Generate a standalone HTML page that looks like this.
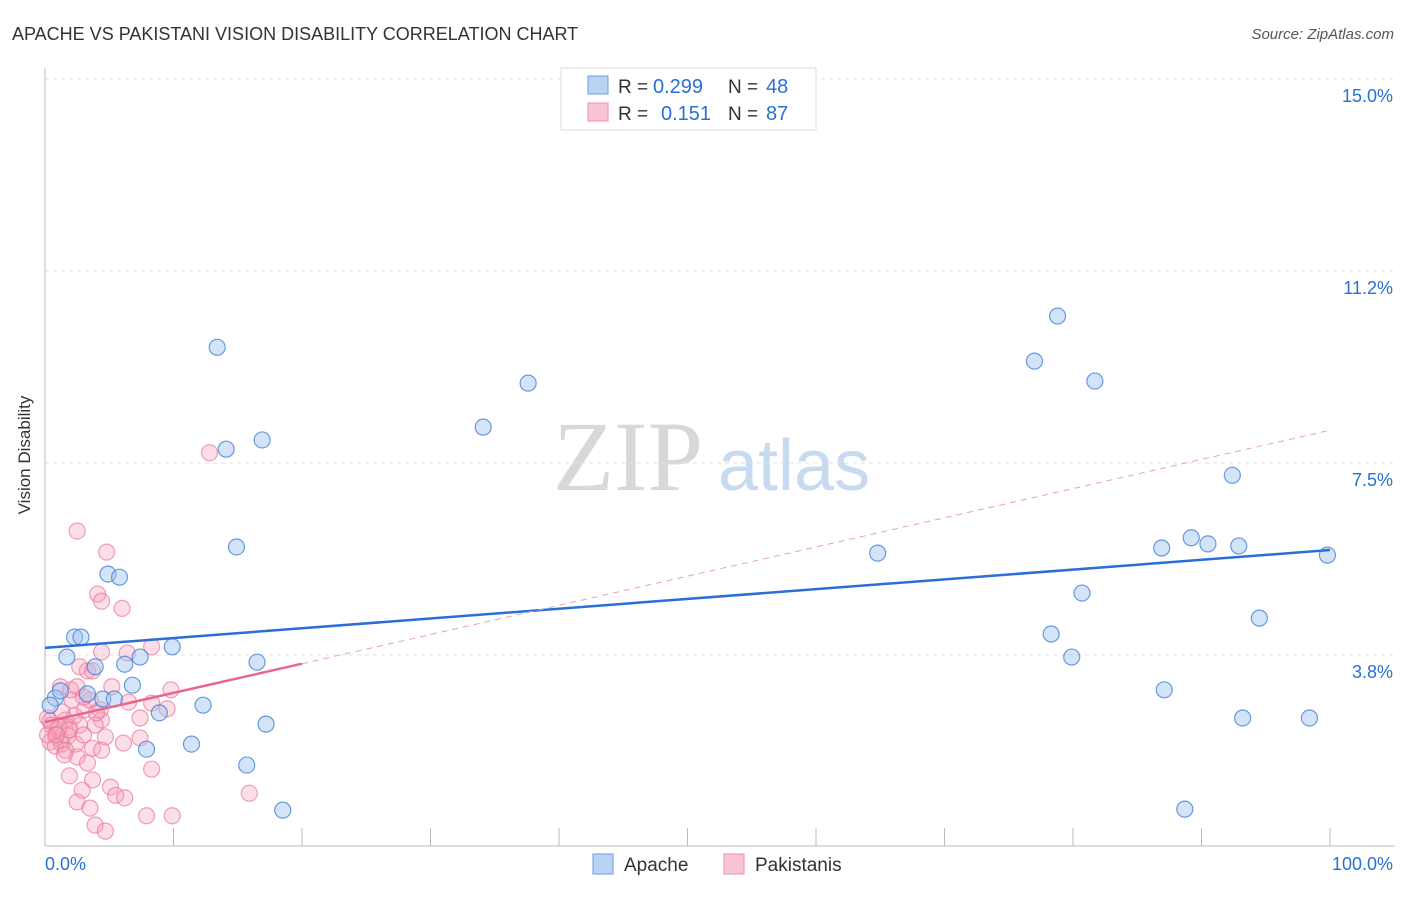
<!DOCTYPE html>
<html><head><meta charset="utf-8"><style>
body{margin:0;background:#fff;font-family:"Liberation Sans",sans-serif}
</style></head><body>
<svg id="chart" width="1406" height="892" xmlns="http://www.w3.org/2000/svg" font-family="Liberation Sans, sans-serif">
<text x="12" y="40" font-size="18" fill="#333">APACHE VS PAKISTANI VISION DISABILITY CORRELATION CHART</text>
<text x="1394" y="39" font-size="15" fill="#555" font-style="italic" text-anchor="end">Source: ZipAtlas.com</text>
<text x="30" y="455" font-size="17" fill="#333" transform="rotate(-90 30 455)" text-anchor="middle">Vision Disability</text>
<text x="553" y="490" font-size="100" fill="#d8d8d8" style="font-family:'Liberation Serif',serif">ZIP</text>
<text x="718" y="490" font-size="72" fill="#c8daf0">atlas</text>
<g id="grid"></g><g id="pts"></g><g id="lines"></g>
<g>
<rect x="561" y="68" width="255" height="62" fill="#fff" stroke="#ddd"/>
<rect x="588" y="76" width="20" height="18" fill="#b9d3f5" stroke="#6a9de0"/>
<rect x="588" y="103" width="20" height="18" fill="#f9c5d4" stroke="#ee8fab"/>
<text x="618" y="93" font-size="19" fill="#333">R =</text>
<text x="653" y="93" font-size="20" fill="#2a6fd6">0.299</text>
<text x="728" y="93" font-size="19" fill="#333">N =</text>
<text x="766" y="93" font-size="20" fill="#2a6fd6">48</text>
<text x="618" y="120" font-size="19" fill="#333">R =</text>
<text x="661" y="120" font-size="20" fill="#2a6fd6">0.151</text>
<text x="728" y="120" font-size="19" fill="#333">N =</text>
<text x="766" y="120" font-size="20" fill="#2a6fd6">87</text>
</g>
<g>
<rect x="593" y="854" width="20" height="20" fill="#b9d3f5" stroke="#6a9de0"/>
<text x="624" y="871" font-size="19" fill="#333">Apache</text>
<rect x="724" y="854" width="20" height="20" fill="#f9c5d4" stroke="#ee8fab"/>
<text x="755" y="871" font-size="19" fill="#333">Pakistanis</text>
</g>
</svg>
<script>
const yTicks=[3.75,7.5,11.25,15];
const yTickLabels=["3.8%","7.5%","11.2%","15.0%"];
const apacheX=[13.4,14.1,16.9,14.9,4.9,5.8,2.3,2.8,1.7,3.9,6.2,7.4,9.9,16.5,0.8,1.2,3.3,4.5,5.4,6.8,8.9,12.3,17.2,7.9,11.4,15.7,18.5,34.1,37.6,64.8,78.8,77.0,81.7,92.4,86.9,89.2,90.5,92.9,99.8,80.7,94.5,78.3,79.9,87.1,93.2,98.4,88.7,0.4];
const apacheY=[9.76,7.77,7.95,5.86,5.33,5.27,4.10,4.10,3.71,3.52,3.57,3.71,3.91,3.61,2.91,3.05,2.99,2.89,2.89,3.16,2.62,2.77,2.40,1.91,2.01,1.60,0.72,8.20,9.06,5.74,10.37,9.49,9.10,7.26,5.84,6.04,5.92,5.88,5.70,4.96,4.47,4.16,3.71,3.07,2.52,2.52,0.74,2.77];
const pakX=[2.5,4.8,4.1,4.4,6.0,4.4,6.4,8.3,2.7,3.3,3.7,5.2,9.8,2.5,6.5,8.3,9.5,7.4,4.4,4.7,6.1,7.4,8.3,3.7,4.4,2.5,3.3,1.9,3.7,2.9,5.1,5.5,6.2,2.5,3.5,7.9,9.9,3.9,4.7,15.9,12.8,0.2,0.5,0.8,1.2,0.4,1.0,1.6,1.3,1.9,1.8,0.8,0.2,2.3,2.1,3.1,2.7,3.5,4.3,1.3,1.9,2.4,3.0,3.9,1.1,1.6,0.4,2.0,1.2,3.0,4.0,0.9,1.5];
const pakY=[6.17,5.76,4.94,4.80,4.66,3.81,3.79,3.91,3.52,3.44,3.44,3.13,3.07,3.13,2.83,2.81,2.70,2.52,2.48,2.15,2.03,2.13,1.52,1.93,1.89,1.76,1.64,1.39,1.31,1.11,1.17,1.01,0.96,0.88,0.76,0.61,0.61,0.43,0.31,1.05,7.70,2.52,2.38,2.19,2.09,2.05,2.29,2.48,2.01,2.34,2.17,1.97,2.19,2.56,2.87,2.68,2.38,2.87,2.68,2.64,2.29,2.01,2.19,2.38,2.34,1.89,2.46,3.07,3.13,2.93,2.62,2.19,1.80];
const apacheTrend=[3.89,0.0191];
const pakTrend=[2.44,0.057];
const NS="http://www.w3.org/2000/svg";
const X=v=>45+v*12.85, Y=v=>847-v*51.2;
function mk(t,a,p){const e=document.createElementNS(NS,t);for(const k in a)e.setAttribute(k,a[k]);p.appendChild(e);return e;}
const grid=document.getElementById('grid');
yTicks.forEach((t,i)=>{
 const l=mk('line',{x1:45,x2:1395,y1:Y(t),y2:Y(t),stroke:'#e2e2e2','stroke-dasharray':'4,4'},grid);
 
 
 const tx=mk('text',{x:1393,y:Y(t)+23,'font-size':18,fill:'#2a6fd6','text-anchor':'end'},grid);
 tx.textContent=yTickLabels[i];
 
 
});
mk('line',{x1:45,x2:45,y1:68,y2:846,stroke:'#bbb'},grid);
mk('line',{x1:45,x2:1395,y1:846,y2:846,stroke:'#bbb'},grid);
for(let i=0;i<=10;i++){const t=mk('line',{x1:X(i*10),x2:X(i*10),y1:828,y2:846,stroke:'#bbb'},grid);
 
 }
let a=mk('text',{x:45,y:870,'font-size':18,fill:'#2a6fd6'},grid);a.textContent='0.0%';
a=mk('text',{x:1393,y:870,'font-size':18,fill:'#2a6fd6','text-anchor':'end'},grid);a.textContent='100.0%';
const pts=document.getElementById('pts');
pakX.forEach((x,i)=>{const c=mk('circle',{cx:X(x),cy:Y(pakY[i]),r:8,fill:'rgba(245,160,185,0.35)',stroke:'rgba(235,120,155,0.7)','stroke-width':1.2},pts);
 
 });
apacheX.forEach((x,i)=>{const c=mk('circle',{cx:X(x),cy:Y(apacheY[i]),r:8,fill:'rgba(160,195,240,0.45)',stroke:'rgba(70,130,215,0.8)','stroke-width':1.2},pts);
 
 });
const L=document.getElementById('lines');
const f=(t,x)=>t[0]+t[1]*x;
let e=mk('line',{x1:X(0),y1:Y(f(apacheTrend,0)),x2:X(100),y2:Y(f(apacheTrend,100)),stroke:'#2a6fd6','stroke-width':2.5},L);


e=mk('line',{x1:X(0),y1:Y(f(pakTrend,0)),x2:X(20),y2:Y(f(pakTrend,20)),stroke:'#e8658f','stroke-width':2.5},L);


e=mk('line',{x1:X(20),y1:Y(f(pakTrend,20)),x2:X(100),y2:Y(f(pakTrend,100)),stroke:'#e8a0b5','stroke-width':1,'stroke-dasharray':'6,5'},L);


</script>
</body></html>
